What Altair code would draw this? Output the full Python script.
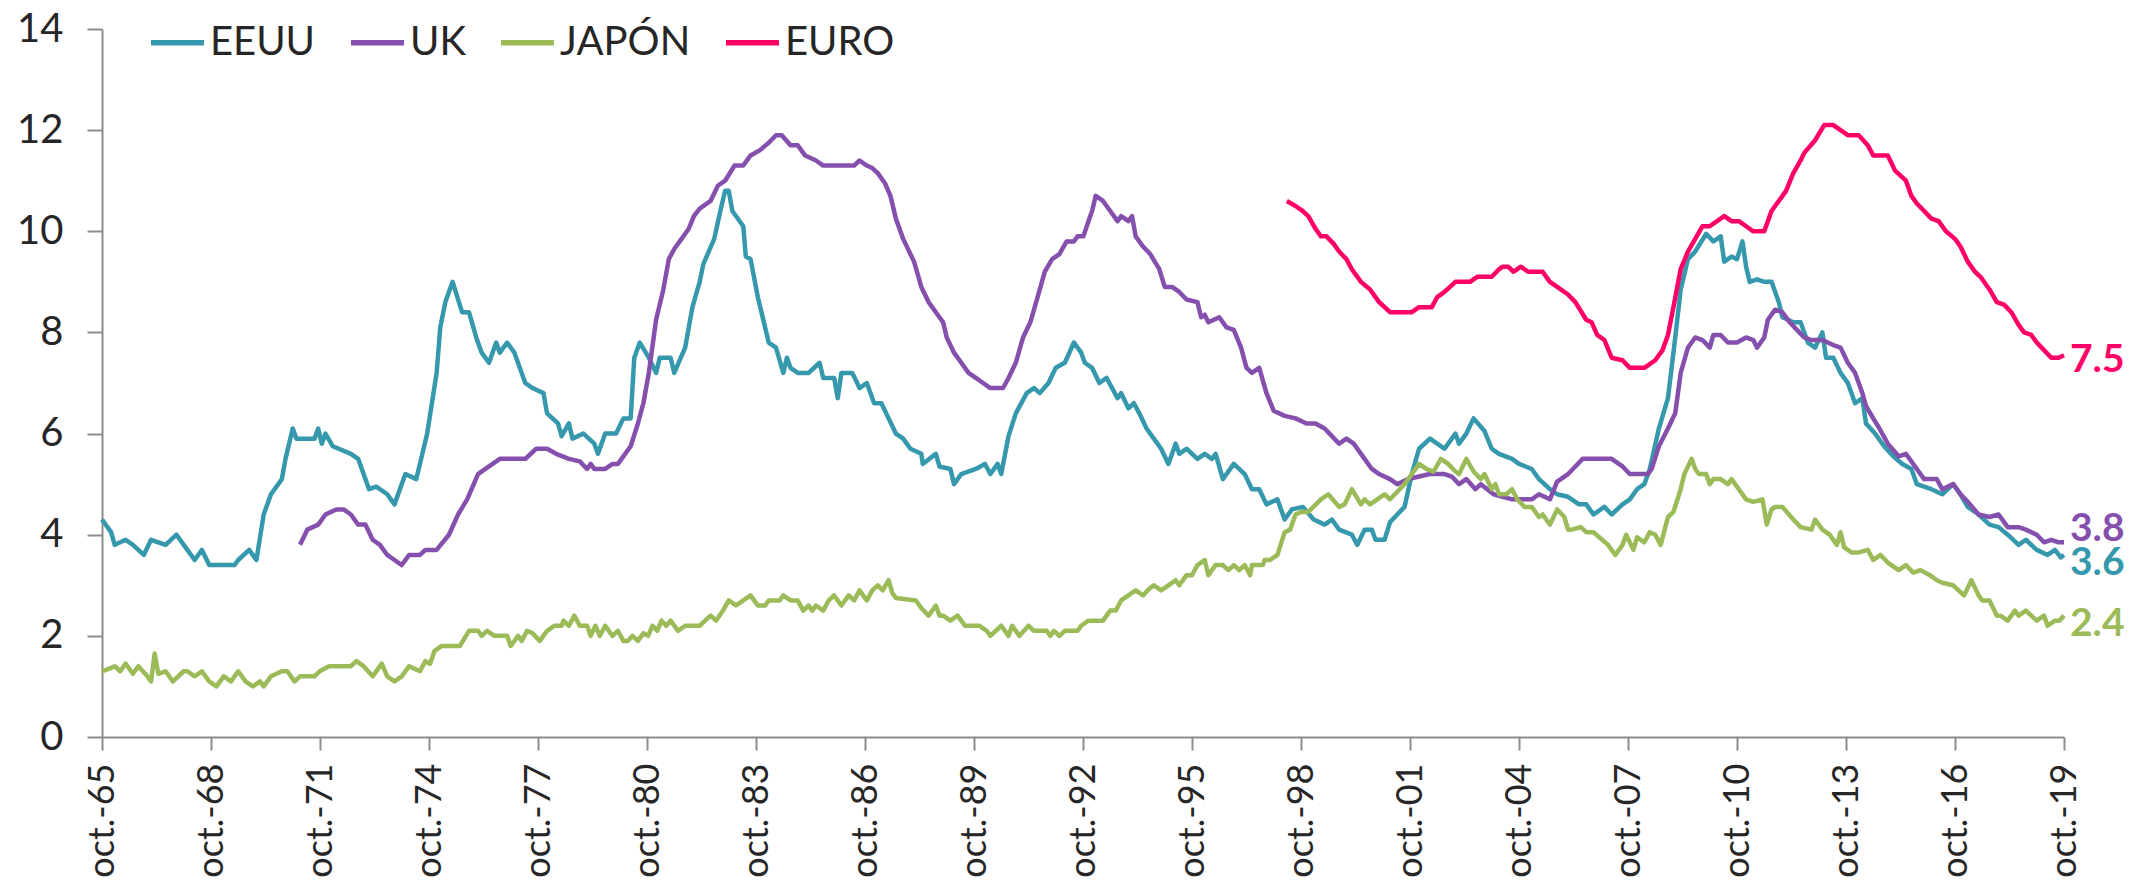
import altair as alt
import pandas as pd

# ---------------- data: [decimal year, unemployment %] ----------------
eeuu = [
    [1965.75, 4.3], [1966.0, 4.05], [1966.1, 3.8], [1966.4, 3.9], [1966.6, 3.8], [1966.9, 3.6],
    [1967.1, 3.9], [1967.5, 3.8], [1967.8, 4.0], [1968.1, 3.7], [1968.3, 3.5], [1968.5, 3.7],
    [1968.7, 3.4], [1969.4, 3.4], [1969.5, 3.5], [1969.8, 3.7], [1970.0, 3.5], [1970.2, 4.4],
    [1970.4, 4.8], [1970.7, 5.1], [1970.8, 5.5], [1971.0, 6.1], [1971.1, 5.9], [1971.6, 5.9],
    [1971.7, 6.1], [1971.8, 5.8], [1971.9, 6.0], [1972.1, 5.75], [1972.6, 5.6], [1972.8, 5.5],
    [1973.1, 4.9], [1973.3, 4.95], [1973.6, 4.8], [1973.8, 4.6], [1974.1, 5.2], [1974.4, 5.1],
    [1974.5, 5.4], [1974.7, 6.0], [1974.96, 7.2], [1975.06, 8.1], [1975.2, 8.6], [1975.4, 9.0],
    [1975.66, 8.4], [1975.85, 8.4], [1976.05, 7.9], [1976.2, 7.6], [1976.4, 7.4], [1976.6, 7.8],
    [1976.7, 7.6], [1976.9, 7.8], [1977.1, 7.6], [1977.4, 7.0], [1977.6, 6.9], [1977.9, 6.8],
    [1978.0, 6.4], [1978.3, 6.2], [1978.4, 5.95], [1978.6, 6.2], [1978.7, 5.9], [1979.0, 6.0],
    [1979.3, 5.8], [1979.4, 5.6], [1979.6, 6.0], [1979.9, 6.0], [1980.1, 6.3], [1980.3, 6.3],
    [1980.4, 7.5], [1980.55, 7.8], [1980.8, 7.5], [1981.0, 7.2], [1981.1, 7.5], [1981.4, 7.5],
    [1981.5, 7.2], [1981.8, 7.7], [1982.0, 8.5], [1982.2, 9.0], [1982.3, 9.35], [1982.6, 9.85],
    [1982.8, 10.5], [1982.9, 10.8], [1983.0, 10.8], [1983.1, 10.4], [1983.4, 10.1], [1983.47, 9.5],
    [1983.6, 9.45], [1983.8, 8.7], [1984.0, 8.1], [1984.1, 7.8], [1984.3, 7.7], [1984.5, 7.2],
    [1984.6, 7.5], [1984.7, 7.3], [1984.9, 7.2], [1985.2, 7.2], [1985.5, 7.4], [1985.6, 7.1],
    [1985.9, 7.1], [1986.0, 6.7], [1986.1, 7.2], [1986.4, 7.2], [1986.6, 6.9], [1986.8, 7.0],
    [1987.0, 6.6], [1987.2, 6.6], [1987.4, 6.3], [1987.6, 6.0], [1987.8, 5.9], [1988.0, 5.7],
    [1988.3, 5.6], [1988.34, 5.4], [1988.7, 5.6], [1988.8, 5.35], [1989.1, 5.3], [1989.2, 5.0],
    [1989.4, 5.2], [1989.8, 5.3], [1990.05, 5.4], [1990.2, 5.2], [1990.4, 5.4], [1990.5, 5.2],
    [1990.7, 5.95], [1990.9, 6.4], [1991.2, 6.8], [1991.4, 6.9], [1991.56, 6.8], [1991.8, 7.0],
    [1992.0, 7.3], [1992.25, 7.4], [1992.5, 7.8], [1992.7, 7.6], [1992.8, 7.4], [1993.0, 7.3],
    [1993.2, 7.0], [1993.4, 7.1], [1993.7, 6.7], [1993.8, 6.8], [1994.0, 6.5], [1994.15, 6.6],
    [1994.3, 6.4], [1994.5, 6.1], [1994.7, 5.9], [1994.9, 5.7], [1995.1, 5.4], [1995.3, 5.8],
    [1995.4, 5.6], [1995.6, 5.7], [1995.9, 5.5], [1996.1, 5.6], [1996.3, 5.5], [1996.4, 5.6],
    [1996.6, 5.1], [1996.9, 5.4], [1997.2, 5.2], [1997.4, 4.9], [1997.6, 4.9], [1997.8, 4.6],
    [1998.1, 4.7], [1998.3, 4.3], [1998.5, 4.5], [1998.8, 4.55], [1999.1, 4.3], [1999.4, 4.2],
    [1999.6, 4.3], [1999.8, 4.1], [2000.15, 4.0], [2000.3, 3.8], [2000.5, 4.1], [2000.7, 4.1],
    [2000.8, 3.9], [2001.05, 3.9], [2001.2, 4.25], [2001.4, 4.4], [2001.6, 4.55], [2001.8, 5.2],
    [2002.0, 5.7], [2002.3, 5.9], [2002.5, 5.8], [2002.7, 5.7], [2003.0, 6.0], [2003.1, 5.8],
    [2003.3, 6.0], [2003.5, 6.3], [2003.8, 6.05], [2004.0, 5.7], [2004.2, 5.6], [2004.56, 5.5],
    [2004.75, 5.4], [2005.1, 5.3], [2005.3, 5.1], [2005.6, 4.9], [2005.8, 4.8], [2006.1, 4.75],
    [2006.4, 4.6], [2006.6, 4.6], [2006.8, 4.4], [2007.1, 4.55], [2007.3, 4.4], [2007.6, 4.6],
    [2007.8, 4.7], [2008.0, 4.9], [2008.2, 5.0], [2008.35, 5.3], [2008.6, 6.1], [2008.85, 6.7],
    [2009.05, 7.9], [2009.2, 8.85], [2009.4, 9.45], [2009.6, 9.6], [2009.9, 9.95], [2010.1, 9.8],
    [2010.3, 9.9], [2010.4, 9.4], [2010.6, 9.5], [2010.75, 9.45], [2010.9, 9.8], [2011.0, 9.3],
    [2011.1, 9.0], [2011.3, 9.05], [2011.5, 9.0], [2011.7, 9.0], [2011.9, 8.6], [2012.0, 8.3],
    [2012.3, 8.2], [2012.5, 8.2], [2012.7, 7.8], [2012.9, 7.7], [2013.1, 8.0], [2013.2, 7.5],
    [2013.4, 7.5], [2013.6, 7.2], [2013.8, 7.0], [2014.0, 6.6], [2014.2, 6.7], [2014.3, 6.2],
    [2014.55, 6.0], [2014.8, 5.75], [2015.05, 5.55], [2015.3, 5.4], [2015.55, 5.3], [2015.7, 5.0],
    [2016.1, 4.9], [2016.4, 4.8], [2016.7, 5.0], [2016.9, 4.8], [2017.1, 4.55], [2017.4, 4.4],
    [2017.7, 4.2], [2017.95, 4.15], [2018.2, 4.0], [2018.5, 3.8], [2018.7, 3.9], [2019.0, 3.7],
    [2019.3, 3.6], [2019.5, 3.7], [2019.66, 3.55], [2019.75, 3.6],
]

uk = [
    [1971.2, 3.8], [1971.4, 4.1], [1971.7, 4.2], [1971.9, 4.4], [1972.2, 4.5], [1972.4, 4.5],
    [1972.6, 4.4], [1972.8, 4.2], [1973.0, 4.2], [1973.2, 3.9], [1973.4, 3.8], [1973.6, 3.6],
    [1973.8, 3.5], [1974.0, 3.4], [1974.2, 3.6], [1974.5, 3.6], [1974.65, 3.7], [1974.96, 3.7],
    [1975.3, 4.0], [1975.55, 4.4], [1975.8, 4.7], [1976.1, 5.2], [1976.3, 5.3], [1976.5, 5.4],
    [1976.7, 5.5], [1977.4, 5.5], [1977.7, 5.7], [1978.0, 5.7], [1978.25, 5.6], [1978.6, 5.5],
    [1978.9, 5.45], [1979.1, 5.3], [1979.2, 5.4], [1979.3, 5.3], [1979.6, 5.3], [1979.8, 5.4],
    [1979.95, 5.4], [1980.3, 5.75], [1980.5, 6.2], [1980.65, 6.6], [1980.8, 7.2], [1981.0, 8.25],
    [1981.2, 8.85], [1981.35, 9.45], [1981.5, 9.65], [1981.7, 9.85], [1981.9, 10.05], [1982.04, 10.3],
    [1982.2, 10.45], [1982.5, 10.6], [1982.7, 10.9], [1982.9, 11.0], [1983.16, 11.3], [1983.4, 11.3],
    [1983.6, 11.5], [1983.85, 11.6], [1984.1, 11.75], [1984.3, 11.9], [1984.46, 11.9], [1984.7, 11.7],
    [1984.9, 11.7], [1985.1, 11.5], [1985.4, 11.4], [1985.6, 11.3], [1986.45, 11.3], [1986.6, 11.4],
    [1986.8, 11.3], [1986.95, 11.25], [1987.1, 11.15], [1987.3, 10.95], [1987.45, 10.7], [1987.6, 10.25],
    [1987.8, 9.85], [1988.1, 9.4], [1988.3, 8.9], [1988.5, 8.6], [1988.7, 8.4], [1988.9, 8.2],
    [1989.0, 7.9], [1989.2, 7.6], [1989.4, 7.4], [1989.6, 7.2], [1989.8, 7.1], [1990.0, 7.0],
    [1990.2, 6.9], [1990.55, 6.9], [1990.7, 7.1], [1990.9, 7.4], [1991.1, 7.9], [1991.3, 8.2],
    [1991.5, 8.7], [1991.7, 9.2], [1991.9, 9.45], [1992.1, 9.55], [1992.3, 9.8], [1992.5, 9.8],
    [1992.6, 9.9], [1992.76, 9.9], [1992.9, 10.2], [1993.0, 10.4], [1993.1, 10.7], [1993.3, 10.6],
    [1993.5, 10.4], [1993.7, 10.2], [1993.8, 10.3], [1994.0, 10.2], [1994.1, 10.3], [1994.2, 9.9],
    [1994.4, 9.7], [1994.6, 9.55], [1994.85, 9.25], [1995.0, 8.9], [1995.2, 8.9], [1995.4, 8.8],
    [1995.6, 8.65], [1995.9, 8.6], [1996.0, 8.3], [1996.1, 8.35], [1996.2, 8.2], [1996.5, 8.3],
    [1996.7, 8.1], [1996.9, 8.05], [1997.1, 7.7], [1997.25, 7.3], [1997.4, 7.2], [1997.6, 7.3],
    [1997.8, 6.8], [1998.0, 6.45], [1998.3, 6.35], [1998.6, 6.3], [1998.9, 6.2], [1999.15, 6.2],
    [1999.4, 6.1], [1999.6, 5.95], [1999.8, 5.8], [2000.0, 5.9], [2000.2, 5.8], [2000.5, 5.5],
    [2000.7, 5.3], [2000.9, 5.2], [2001.2, 5.1], [2001.4, 5.0], [2001.7, 5.1], [2002.0, 5.15],
    [2002.3, 5.2], [2002.7, 5.2], [2002.9, 5.15], [2003.1, 5.0], [2003.3, 5.1], [2003.55, 4.9],
    [2003.7, 5.0], [2004.05, 4.8], [2004.56, 4.7], [2005.1, 4.7], [2005.3, 4.8], [2005.6, 4.7],
    [2005.8, 5.05], [2006.1, 5.2], [2006.3, 5.35], [2006.5, 5.5], [2006.9, 5.5], [2007.3, 5.5],
    [2007.6, 5.35], [2007.8, 5.2], [2008.3, 5.2], [2008.4, 5.3], [2008.6, 5.75], [2008.85, 6.1],
    [2009.05, 6.4], [2009.2, 7.2], [2009.4, 7.7], [2009.6, 7.9], [2009.8, 7.85], [2010.0, 7.7],
    [2010.1, 7.95], [2010.3, 7.95], [2010.5, 7.8], [2010.75, 7.8], [2011.0, 7.9], [2011.2, 7.85],
    [2011.3, 7.7], [2011.5, 7.9], [2011.6, 8.25], [2011.8, 8.45], [2012.0, 8.4], [2012.2, 8.2],
    [2012.4, 8.05], [2012.6, 7.9], [2012.8, 7.85], [2013.1, 7.85], [2013.4, 7.75], [2013.6, 7.7],
    [2013.8, 7.4], [2014.0, 7.2], [2014.2, 6.8], [2014.3, 6.55], [2014.5, 6.3], [2014.67, 6.1],
    [2014.9, 5.8], [2015.2, 5.55], [2015.4, 5.6], [2015.7, 5.3], [2015.9, 5.1], [2016.25, 5.1],
    [2016.4, 4.9], [2016.7, 5.0], [2016.9, 4.8], [2017.1, 4.65], [2017.4, 4.4], [2017.7, 4.35],
    [2017.95, 4.4], [2018.2, 4.15], [2018.5, 4.15], [2018.7, 4.1], [2019.0, 4.0], [2019.2, 3.85],
    [2019.4, 3.9], [2019.6, 3.85], [2019.75, 3.85],
]

japon = [
    [1965.75, 1.3], [1965.95, 1.35], [1966.1, 1.4], [1966.25, 1.3], [1966.4, 1.45], [1966.6, 1.25],
    [1966.75, 1.4], [1967.0, 1.2], [1967.1, 1.1], [1967.2, 1.65], [1967.3, 1.25], [1967.5, 1.3],
    [1967.7, 1.1], [1968.0, 1.3], [1968.1, 1.3], [1968.3, 1.2], [1968.5, 1.3], [1968.7, 1.1],
    [1968.9, 1.0], [1969.1, 1.2], [1969.3, 1.1], [1969.5, 1.3], [1969.7, 1.1], [1969.9, 1.0],
    [1970.1, 1.1], [1970.2, 1.0], [1970.4, 1.2], [1970.7, 1.3], [1970.85, 1.3], [1971.05, 1.1],
    [1971.2, 1.2], [1971.6, 1.2], [1971.74, 1.3], [1972.0, 1.4], [1972.6, 1.4], [1972.75, 1.5],
    [1972.95, 1.4], [1973.2, 1.2], [1973.45, 1.45], [1973.6, 1.2], [1973.8, 1.1], [1974.0, 1.2],
    [1974.2, 1.4], [1974.5, 1.3], [1974.65, 1.5], [1974.78, 1.45], [1974.9, 1.7], [1975.1, 1.8],
    [1975.6, 1.8], [1975.85, 2.1], [1976.1, 2.1], [1976.2, 2.0], [1976.35, 2.1], [1976.55, 2.0],
    [1976.9, 2.0], [1977.0, 1.8], [1977.2, 2.0], [1977.3, 1.9], [1977.45, 2.1], [1977.6, 2.05],
    [1977.8, 1.9], [1978.0, 2.1], [1978.2, 2.2], [1978.4, 2.2], [1978.45, 2.3], [1978.6, 2.2],
    [1978.75, 2.4], [1978.9, 2.2], [1979.1, 2.2], [1979.2, 2.0], [1979.33, 2.2], [1979.45, 2.0],
    [1979.6, 2.2], [1979.8, 2.0], [1979.95, 2.1], [1980.1, 1.9], [1980.22, 1.9], [1980.35, 2.0],
    [1980.5, 1.9], [1980.65, 2.05], [1980.78, 2.0], [1980.9, 2.2], [1981.03, 2.1], [1981.15, 2.3],
    [1981.28, 2.2], [1981.4, 2.3], [1981.6, 2.1], [1981.8, 2.2], [1982.2, 2.2], [1982.35, 2.3],
    [1982.5, 2.4], [1982.65, 2.3], [1982.84, 2.5], [1983.0, 2.7], [1983.2, 2.6], [1983.4, 2.7],
    [1983.6, 2.8], [1983.8, 2.6], [1984.0, 2.6], [1984.1, 2.7], [1984.4, 2.7], [1984.5, 2.8],
    [1984.7, 2.7], [1984.9, 2.7], [1985.05, 2.5], [1985.2, 2.6], [1985.3, 2.5], [1985.4, 2.6],
    [1985.6, 2.5], [1985.75, 2.7], [1985.9, 2.8], [1986.1, 2.6], [1986.3, 2.8], [1986.45, 2.7],
    [1986.6, 2.9], [1986.8, 2.7], [1986.95, 2.9], [1987.1, 3.0], [1987.24, 2.9], [1987.4, 3.1],
    [1987.5, 2.85], [1987.6, 2.75], [1988.15, 2.7], [1988.3, 2.55], [1988.5, 2.4], [1988.7, 2.6],
    [1988.8, 2.4], [1988.9, 2.4], [1989.1, 2.3], [1989.3, 2.4], [1989.5, 2.2], [1989.9, 2.2],
    [1990.1, 2.1], [1990.2, 2.0], [1990.5, 2.2], [1990.7, 2.0], [1990.8, 2.2], [1991.0, 2.0],
    [1991.25, 2.2], [1991.4, 2.1], [1991.75, 2.1], [1991.85, 2.0], [1991.95, 2.1], [1992.1, 2.0],
    [1992.25, 2.1], [1992.6, 2.1], [1992.7, 2.2], [1992.9, 2.3], [1993.3, 2.3], [1993.5, 2.5],
    [1993.65, 2.5], [1993.8, 2.7], [1994.0, 2.8], [1994.2, 2.9], [1994.4, 2.8], [1994.6, 2.95],
    [1994.7, 3.0], [1994.9, 2.9], [1995.1, 3.0], [1995.3, 3.1], [1995.4, 3.0], [1995.6, 3.2],
    [1995.75, 3.2], [1995.9, 3.4], [1996.1, 3.5], [1996.2, 3.2], [1996.4, 3.4], [1996.6, 3.4],
    [1996.75, 3.3], [1996.9, 3.4], [1997.05, 3.3], [1997.2, 3.4], [1997.35, 3.2], [1997.4, 3.4],
    [1997.7, 3.4], [1997.75, 3.5], [1997.9, 3.5], [1998.1, 3.6], [1998.3, 4.05], [1998.45, 4.1],
    [1998.6, 4.4], [1998.75, 4.45], [1998.95, 4.45], [1999.3, 4.7], [1999.5, 4.8], [1999.8, 4.55],
    [1999.95, 4.6], [2000.15, 4.9], [2000.4, 4.6], [2000.5, 4.7], [2000.65, 4.6], [2000.85, 4.7],
    [2001.05, 4.8], [2001.2, 4.7], [2001.4, 4.85], [2001.6, 5.0], [2001.8, 5.2], [2002.0, 5.4],
    [2002.2, 5.3], [2002.4, 5.25], [2002.6, 5.5], [2002.8, 5.4], [2003.0, 5.25], [2003.1, 5.2],
    [2003.3, 5.5], [2003.5, 5.25], [2003.7, 5.1], [2003.8, 5.2], [2004.0, 4.9], [2004.1, 5.0],
    [2004.2, 4.8], [2004.4, 4.8], [2004.56, 4.9], [2004.7, 4.7], [2004.9, 4.55], [2005.1, 4.55],
    [2005.3, 4.35], [2005.4, 4.4], [2005.6, 4.2], [2005.8, 4.5], [2006.0, 4.35], [2006.1, 4.1],
    [2006.2, 4.1], [2006.45, 4.15], [2006.6, 4.05], [2006.8, 4.05], [2007.2, 3.8], [2007.4, 3.6],
    [2007.6, 3.8], [2007.7, 4.0], [2007.9, 3.7], [2008.0, 3.95], [2008.2, 3.85], [2008.35, 4.05],
    [2008.5, 4.0], [2008.65, 3.8], [2008.85, 4.35], [2009.0, 4.45], [2009.2, 4.9], [2009.3, 5.2],
    [2009.5, 5.5], [2009.6, 5.3], [2009.7, 5.2], [2009.9, 5.2], [2010.0, 5.0], [2010.1, 5.1],
    [2010.3, 5.1], [2010.5, 5.0], [2010.6, 5.1], [2010.8, 4.9], [2011.0, 4.7], [2011.2, 4.65],
    [2011.45, 4.7], [2011.57, 4.2], [2011.7, 4.5], [2011.8, 4.55], [2012.0, 4.55], [2012.3, 4.3],
    [2012.5, 4.15], [2012.8, 4.1], [2012.9, 4.3], [2013.1, 4.1], [2013.3, 4.0], [2013.5, 3.8],
    [2013.6, 4.05], [2013.7, 3.75], [2013.9, 3.65], [2014.1, 3.65], [2014.35, 3.7], [2014.5, 3.5],
    [2014.7, 3.6], [2014.9, 3.45], [2015.0, 3.4], [2015.2, 3.3], [2015.4, 3.4], [2015.6, 3.25],
    [2015.8, 3.3], [2016.06, 3.2], [2016.25, 3.1], [2016.4, 3.05], [2016.7, 3.0], [2017.0, 2.8],
    [2017.2, 3.1], [2017.4, 2.8], [2017.5, 2.7], [2017.7, 2.7], [2017.9, 2.4], [2018.0, 2.4],
    [2018.2, 2.3], [2018.4, 2.5], [2018.5, 2.4], [2018.7, 2.5], [2019.0, 2.3], [2019.2, 2.4],
    [2019.3, 2.2], [2019.5, 2.3], [2019.62, 2.3], [2019.75, 2.4],
]

euro = [
    [1998.36, 10.6], [1998.6, 10.5], [1998.8, 10.4], [1998.95, 10.3], [1999.15, 10.05], [1999.3, 9.9],
    [1999.45, 9.9], [1999.65, 9.75], [1999.8, 9.6], [2000.0, 9.45], [2000.15, 9.25], [2000.4, 9.0],
    [2000.65, 8.85], [2000.9, 8.6], [2001.2, 8.4], [2001.8, 8.4], [2002.0, 8.5], [2002.35, 8.5],
    [2002.5, 8.7], [2002.7, 8.8], [2003.0, 9.0], [2003.4, 9.0], [2003.6, 9.1], [2004.0, 9.1],
    [2004.2, 9.25], [2004.3, 9.3], [2004.45, 9.3], [2004.6, 9.2], [2004.8, 9.3], [2005.0, 9.2],
    [2005.4, 9.2], [2005.6, 9.0], [2005.8, 8.9], [2006.1, 8.75], [2006.3, 8.6], [2006.6, 8.25],
    [2006.75, 8.2], [2006.9, 7.95], [2007.1, 7.85], [2007.3, 7.5], [2007.6, 7.45], [2007.8, 7.3],
    [2008.2, 7.3], [2008.5, 7.45], [2008.7, 7.65], [2008.85, 7.95], [2009.0, 8.5], [2009.2, 9.25],
    [2009.4, 9.6], [2009.6, 9.85], [2009.8, 10.1], [2010.0, 10.1], [2010.2, 10.2], [2010.4, 10.3],
    [2010.6, 10.2], [2010.8, 10.2], [2011.0, 10.1], [2011.2, 10.0], [2011.5, 10.0], [2011.7, 10.4],
    [2011.8, 10.5], [2012.1, 10.8], [2012.3, 11.15], [2012.5, 11.4], [2012.6, 11.55], [2012.9, 11.8],
    [2013.15, 12.1], [2013.4, 12.1], [2013.6, 12.0], [2013.8, 11.9], [2014.1, 11.9], [2014.35, 11.7],
    [2014.5, 11.5], [2014.7, 11.5], [2014.9, 11.5], [2015.1, 11.2], [2015.4, 11.0], [2015.55, 10.7],
    [2015.7, 10.55], [2015.9, 10.4], [2016.1, 10.25], [2016.3, 10.2], [2016.5, 10.0], [2016.75, 9.85],
    [2016.9, 9.7], [2017.1, 9.4], [2017.3, 9.2], [2017.45, 9.1], [2017.7, 8.85], [2017.9, 8.6],
    [2018.1, 8.55], [2018.3, 8.4], [2018.5, 8.15], [2018.65, 8.0], [2018.85, 7.95], [2019.0, 7.8],
    [2019.2, 7.65], [2019.4, 7.5], [2019.6, 7.5], [2019.75, 7.55],
]

series = ["EEUU", "UK", "JAPÓN", "EURO"]
colors = ["#3598AC", "#8550AD", "#9BBB59", "#FF0066"]
end_text = ["3.6", "3.8", "2.4", "7.5"]
end_dy = [8, -13, 8, 5]
x_ticks = [1965.75 + 3 * i for i in range(19)]

# ---------------- build table ----------------
frames = []
for name, pts in zip(series, [eeuu, uk, japon, euro]):
    f = pd.DataFrame(pts, columns=["t", "v"])
    f["serie"] = name
    frames.append(f)
df = pd.concat(frames, ignore_index=True)

FONT = "Lato"
x_scale = alt.Scale(domain=[1965.75, 2019.75], nice=False, zero=False)
y_scale = alt.Scale(domain=[0, 14], nice=False)

lines = alt.Chart(df).mark_line(strokeWidth=4.5, strokeJoin="round").encode(
    x=alt.X("t:Q", scale=x_scale, title=None,
            axis=alt.Axis(values=x_ticks, grid=False,
                          labelExpr="'oct.-' + (datum.value % 100 < 10 ? '0' : '') + floor(datum.value % 100)",
                          labelAngle=-90, labelFontSize=36, labelFont=FONT, labelColor="#262626",
                          labelPadding=13, tickSize=13, tickColor="#8c8c8c", tickWidth=2,
                          domainColor="#8c8c8c", domainWidth=2, labelOverlap=False)),
    y=alt.Y("v:Q", scale=y_scale, title=None,
            axis=alt.Axis(values=list(range(0, 15, 2)), grid=False, labelFontSize=40, labelFont=FONT,
                          labelColor="#262626", labelPadding=24, tickSize=15, tickColor="#8c8c8c",
                          tickWidth=2, domainColor="#8c8c8c", domainWidth=2)),
    color=alt.Color("serie:N", scale=alt.Scale(domain=series, range=colors),
                    legend=alt.Legend(title=None, orient="none", legendX=46, legendY=-16,
                                      direction="horizontal", symbolType="stroke", symbolSize=2809,
                                      symbolStrokeWidth=5.5, labelFontSize=40, labelFont=FONT,
                                      labelColor="#262626", columnPadding=24, labelOffset=3,
                                      padding=0)),
    detail="serie:N",
    order="t:Q",
)

layers = [lines]
for name, pts, col, txt, dy in zip(series, [eeuu, uk, japon, euro], colors, end_text, end_dy):
    lab = pd.DataFrame({"t": [pts[-1][0]], "v": [pts[-1][1]], "txt": [txt]})
    layers.append(
        alt.Chart(lab).mark_text(align="left", baseline="middle", dx=6, dy=dy, fontSize=39,
                                 font=FONT, fontWeight="bold", color=col).encode(
            x=alt.X("t:Q", scale=x_scale), y=alt.Y("v:Q", scale=y_scale), text="txt:N")
    )

chart = alt.layer(*layers).properties(
    width=1962, height=708,
    autosize=alt.AutoSizeParams(type="none"),
    padding={"left": 94, "top": 21, "right": 69, "bottom": 140},
    background="white",
).configure_view(stroke=None)

chart.save("out.html", embed_options={"renderer": "svg", "actions": False})
